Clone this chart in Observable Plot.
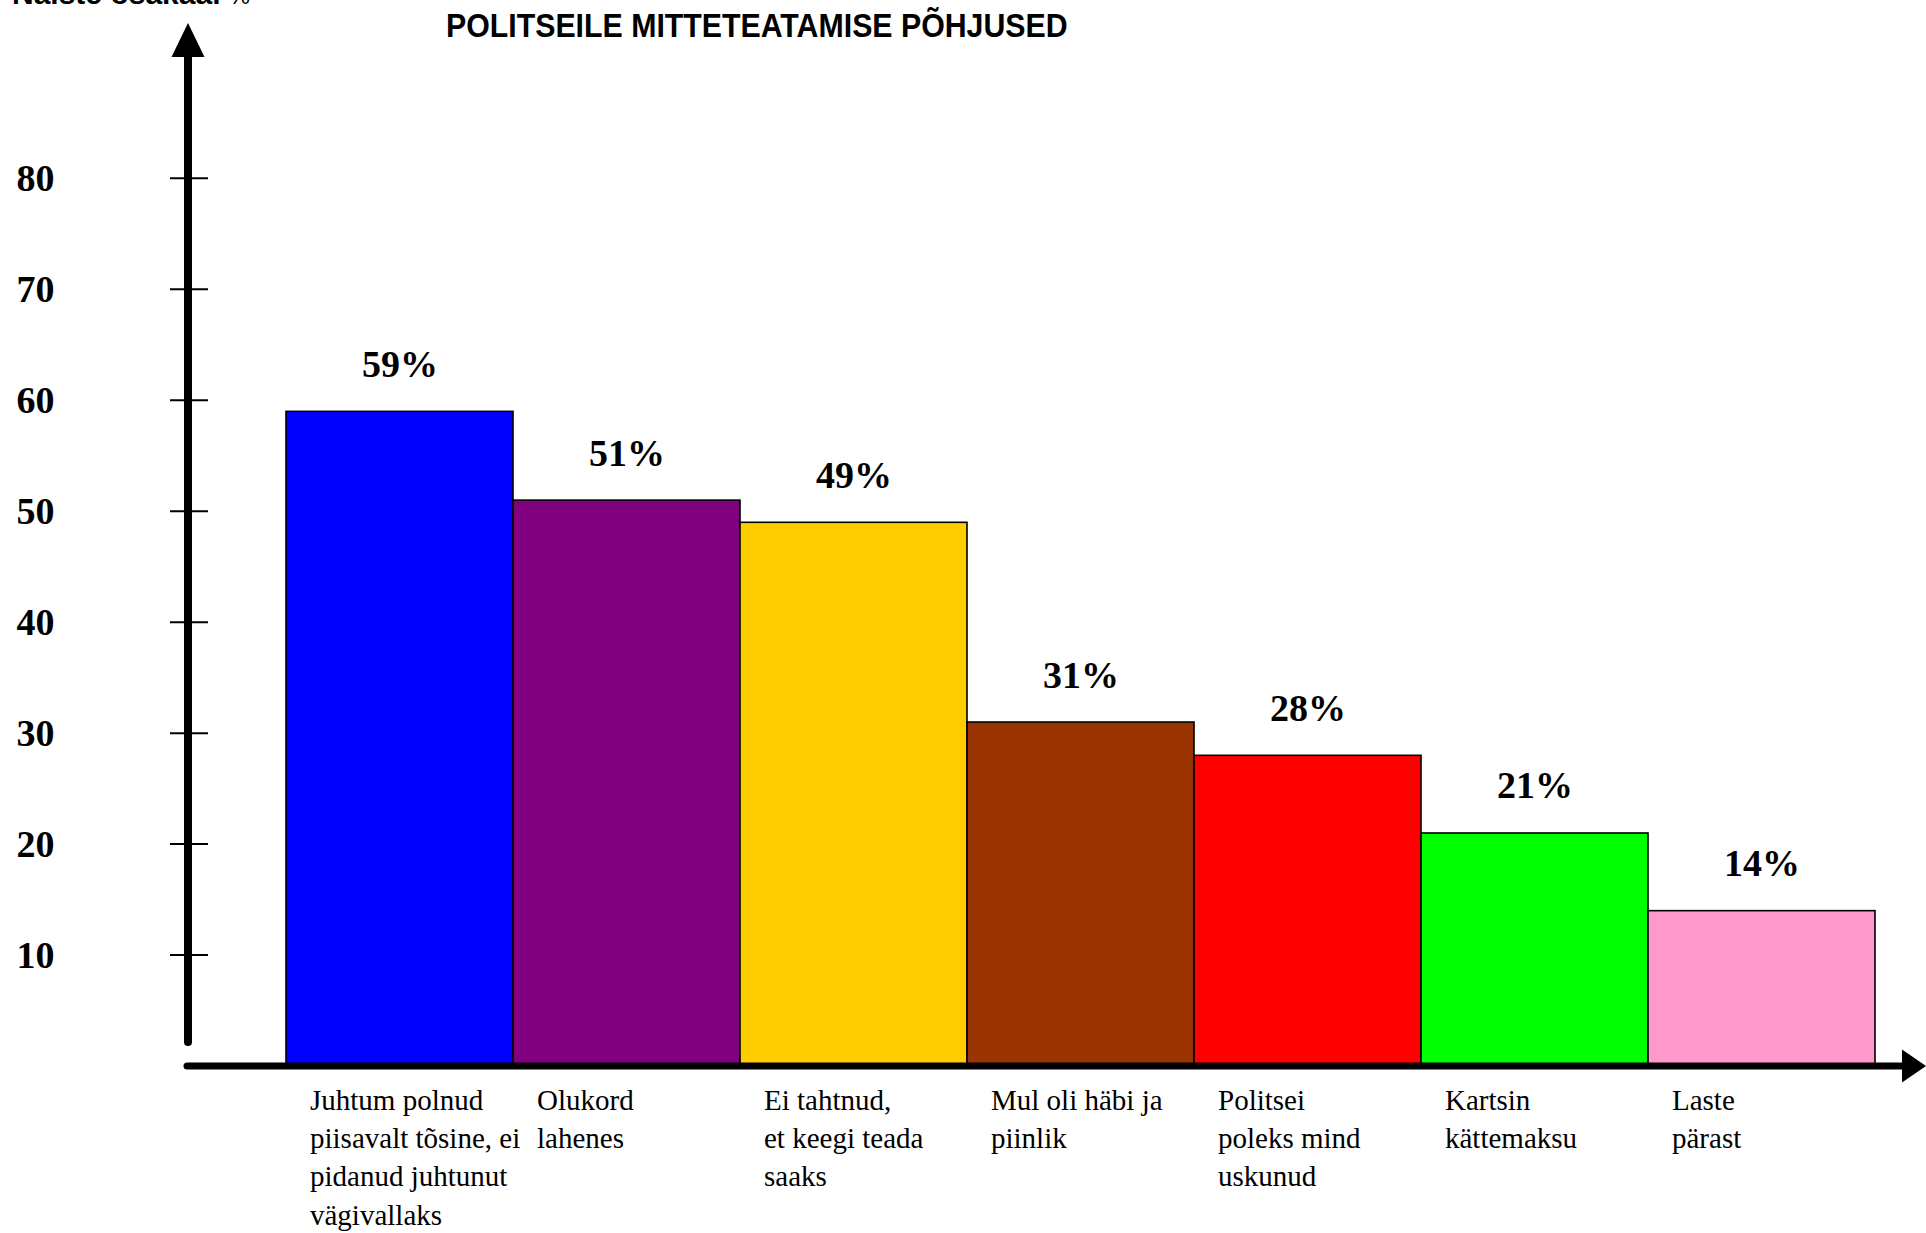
<!DOCTYPE html>
<html>
<head>
<meta charset="utf-8">
<script src="https://cdn.jsdelivr.net/npm/d3@7"></script>
<script src="https://cdn.jsdelivr.net/npm/@observablehq/plot@0.6"></script>
<style>
html, body { margin: 0; padding: 0; background: #fff; overflow: hidden; }
#wrap { position: relative; width: 1926px; height: 1233px; overflow: hidden; background: #fff; }
#chart { position: absolute; left: 0; top: 0; }
#corner { position: absolute; left: 12px; top: -21px; font: bold 30px "Liberation Sans", Arial, sans-serif; line-height: 1; white-space: nowrap; color: #000; }
#corner span { font-weight: normal; font-size: 24px; }
#title { position: absolute; left: 446px; top: 9px; font: bold 33px "Liberation Sans", Arial, sans-serif; line-height: 1; white-space: nowrap; color: #000; transform: scaleX(0.918); transform-origin: left top; }
</style>
</head>
<body>
<div id="wrap">
  <div id="chart"></div>
  <div id="corner"></div>
  <div id="title"></div>
</div>
<script>
// ---- data ----
const categories = [
  "Juhtum polnud\npiisavalt tõsine, ei\npidanud juhtunut\nvägivallaks",
  "Olukord\nlahenes",
  "Ei tahtnud,\net keegi teada\nsaaks",
  "Mul oli häbi ja\npiinlik",
  "Politsei\npoleks mind\nuskunud",
  "Kartsin\nkättemaksu",
  "Laste\npärast"
];
const values = [59, 51, 49, 31, 28, 21, 14];
const colors = ["#0000FF", "#800080", "#FFCC00", "#993300", "#FF0000", "#00FF00", "#FF99CC"];
const yTicks = [10, 20, 30, 40, 50, 60, 70, 80];
const titleText = "POLITSEILE MITTETEATAMISE PÕHJUSED";
const yAxisTitle = "Naiste osakaal";
const yAxisUnit = "%";

document.getElementById("title").textContent = titleText;
const corner = document.getElementById("corner");
corner.textContent = yAxisTitle + " ";
const unitSpan = document.createElement("span");
unitSpan.textContent = yAxisUnit;
corner.appendChild(unitSpan);

const data = categories.map((c, i) => ({category: c, value: values[i]}));

const serif = "Liberation Serif, Times New Roman, serif";

// decorative axis arrows and tick marks, positioned from Plot's scales & dimensions
function axesDecoration(index, scales, vals, dims) {
  const {width, height, marginLeft, marginTop, marginBottom} = dims;
  const y = scales.y;
  const base = height - marginBottom;
  const g = d3.create("svg:g");
  g.selectAll("line.tk").data(yTicks).join("line")
    .attr("x1", marginLeft - 18).attr("x2", marginLeft + 20)
    .attr("y1", d => y(d)).attr("y2", d => y(d))
    .attr("stroke", "black").attr("stroke-width", 2);
  // vertical axis
  g.append("line")
    .attr("x1", marginLeft).attr("x2", marginLeft)
    .attr("y1", base - 24).attr("y2", marginTop + 30)
    .attr("stroke", "black").attr("stroke-width", 8).attr("stroke-linecap", "round");
  g.append("path")
    .attr("d", `M${marginLeft},${marginTop}L${marginLeft - 16.5},${marginTop + 34}L${marginLeft + 16.5},${marginTop + 34}Z`)
    .attr("fill", "black");
  // horizontal axis
  g.append("line")
    .attr("x1", marginLeft - 1).attr("x2", width - 22)
    .attr("y1", base).attr("y2", base)
    .attr("stroke", "black").attr("stroke-width", 7).attr("stroke-linecap", "round");
  g.append("path")
    .attr("d", `M${width},${base}L${width - 24},${base - 16.5}L${width - 24},${base + 16.5}Z`)
    .attr("fill", "black");
  return g.node();
}

const chart = Plot.plot({
  width: 1926,
  height: 1233,
  marginLeft: 188,
  marginRight: 49,
  marginTop: 23,
  marginBottom: 167,
  style: {background: "white", overflow: "visible"},
  x: {domain: categories, padding: 0, insetLeft: 95, axis: null},
  y: {domain: [0, 94]},
  color: {domain: categories, range: colors},
  marks: [
    Plot.axisY({
      ticks: yTicks, tickSize: 0, tickPadding: 134, label: null,
      fontSize: 38, fontWeight: "bold", fontFamily: serif, fill: "black"
    }),
    Plot.barY(data, {x: "category", y: "value", fill: "category", stroke: "black", strokeWidth: 1.6}),
    Plot.text(data, {
      x: "category", y: "value", text: d => d.value + "%",
      lineAnchor: "bottom", dy: -35,
      fontSize: 38, fontWeight: "bold", fontFamily: serif, fill: "black"
    }),
    Plot.text(data, {
      x: "category", y: () => 0, text: "category",
      textAnchor: "start", lineAnchor: "top", dx: -90, dy: 16,
      fontSize: 29, lineHeight: 1.32, fontFamily: serif, fill: "black"
    }),
    axesDecoration
  ]
});

document.getElementById("chart").appendChild(chart);
</script>
</body>
</html>
